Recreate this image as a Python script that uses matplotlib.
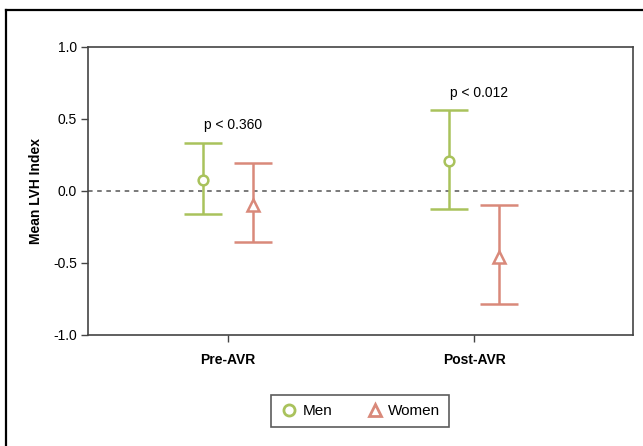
import matplotlib
matplotlib.use("Agg")
import matplotlib.pyplot as plt
from matplotlib.lines import Line2D

plt.rcParams['font.family'] = ['Liberation Sans', 'DejaVu Sans']

# data
phases = ["Pre-AVR", "Post-AVR"]
men_mean = [0.076, 0.21]
men_low = [-0.16, -0.125]
men_high = [0.335, 0.565]
women_mean = [-0.10, -0.46]
women_low = [-0.355, -0.785]
women_high = [0.195, -0.10]
pvals = ["p < 0.360", "p < 0.012"]
pval_y = [0.46, 0.68]

green = "#a9c25c"
red = "#d9897a"

fig = plt.figure(figsize=(6.43, 4.46), dpi=100)
ax = fig.add_axes([88/643, 1 - 335/446, (633-88)/643, (335-47)/446])

# outer frame (top and left only visible)
fig.add_artist(Line2D([6/643, 6/643], [0, 1 - 10/446], transform=fig.transFigure,
                      color="black", lw=1.6))
fig.add_artist(Line2D([6/643, 1], [1 - 10/446, 1 - 10/446], transform=fig.transFigure,
                      color="black", lw=1.6))

x = list(range(len(phases)))
off = 0.1

def draw(xs, mean, low, high, color, marker, ms):
    for xi, m, lo, hi in zip(xs, mean, low, high):
        ax.errorbar([xi], [m], yerr=[[m - lo], [hi - m]], fmt="none",
                    ecolor=color, elinewidth=1.8, capsize=14, capthick=1.8)
        ax.plot([xi], [m], marker=marker, ms=ms, mfc="white", mec=color,
                mew=1.8, ls="none", zorder=5)

draw([i - off for i in x], men_mean, men_low, men_high, green, "o", 7)
draw([i + off for i in x], women_mean, women_low, women_high, red, "^", 8)

ax.axhline(0, color="#555555", ls=(0, (3, 3)), lw=1.1, zorder=0)

for i, (t, yy) in enumerate(zip(pvals, pval_y)):
    ax.text(i + 0.02, yy, t, ha="center", va="center", fontsize=10)

ax.set_xlim(-0.569, 1.646)
ax.set_ylim(-1.0, 1.0)
ax.set_xticks(x)
ax.set_xticklabels(phases, fontsize=10, fontweight="bold")
ax.set_yticks([-1.0, -0.5, 0.0, 0.5, 1.0])
ax.set_yticklabels(["-1.0", "-0.5", "0.0", "0.5", "1.0"], fontsize=10)
ax.tick_params(axis="both", length=5, width=1, color="#444444", pad=3)
ax.tick_params(axis="x", pad=8)
for s in ax.spines.values():
    s.set_color("#444444")
    s.set_linewidth(1.2)
ax.set_ylabel("Mean LVH Index", fontsize=10, fontweight="bold", labelpad=7)

handles = [
    Line2D([], [], marker="o", ls="none", mfc="white", mec=green, mew=2, ms=8, label="Men"),
    Line2D([], [], marker="^", ls="none", mfc="white", mec=red, mew=2, ms=9, label="Women"),
]
leg = fig.legend(handles=handles, loc="center", bbox_to_anchor=(360/643, 1 - 411/446),
                 ncol=2, fontsize=11, frameon=True, fancybox=False,
                 handletextpad=0.25, columnspacing=2.2, borderpad=0.6, handlelength=1.2)
leg.get_frame().set_edgecolor("#333333")
leg.get_frame().set_linewidth(1.2)

fig.savefig("out.png", dpi=100)
